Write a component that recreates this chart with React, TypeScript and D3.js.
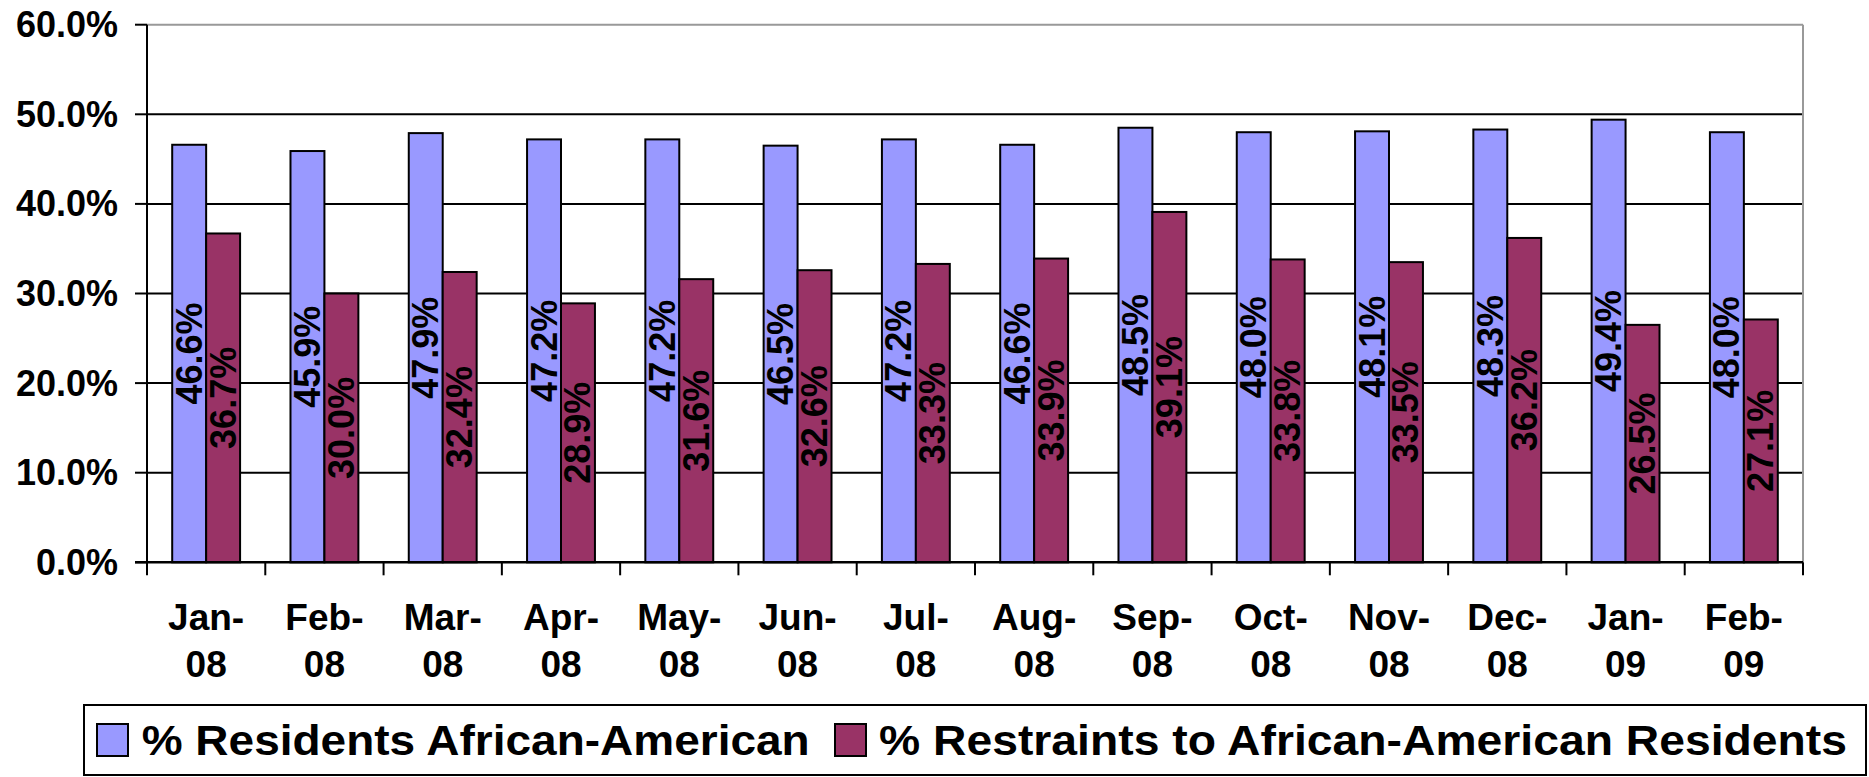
import React from "react";
import * as d3 from "d3";

const monthLabels: string[][] = [
  ["Jan-", "08"], ["Feb-", "08"], ["Mar-", "08"], ["Apr-", "08"], ["May-", "08"], ["Jun-", "08"],
  ["Jul-", "08"], ["Aug-", "08"], ["Sep-", "08"], ["Oct-", "08"], ["Nov-", "08"], ["Dec-", "08"],
  ["Jan-", "09"], ["Feb-", "09"],
];
const residentsAA: number[] = [46.6, 45.9, 47.9, 47.2, 47.2, 46.5, 47.2, 46.6, 48.5, 48.0, 48.1, 48.3, 49.4, 48.0];
const restraintsAA: number[] = [36.7, 30.0, 32.4, 28.9, 31.6, 32.6, 33.3, 33.9, 39.1, 33.8, 33.5, 36.2, 26.5, 27.1];
const yTicks: number[] = [0, 10, 20, 30, 40, 50, 60];
const seriesNames: string[] = ["% Residents African-American", "% Restraints to African-American Residents"];
const seriesColors: string[] = ["#9999FF", "#993366"];

const W = 1869;
const H = 777;
const left = 147;
const right = 1803;
const top = 24.7;
const bottom = 562.3;
const FONT = "'Liberation Sans', Arial, sans-serif";

export default function App() {
  const keys = monthLabels.map((m, i) => String(i));
  const x = d3.scaleBand<string>().domain(keys).range([left, right]).padding(0);
  const bw = x.bandwidth();
  const inner = d3.scaleBand<number>().domain([0, 1]).range([25.2, bw - 25.2]).padding(0);
  const y = d3.scaleLinear().domain([0, 60]).range([bottom, top]);
  const series = [residentsAA, restraintsAA];

  return (
    <svg width={W} height={H} style={{ position: "absolute", left: 0, top: 0, background: "#fff" }} fontFamily={FONT}>
      {yTicks.filter((t) => t > 0 && t < 60).map((t) => (
        <line key={"g" + t} x1={left} x2={right} y1={y(t)} y2={y(t)} stroke="#000" strokeWidth={2} />
      ))}
      <line x1={left} x2={right} y1={y(60)} y2={y(60)} stroke="#999" strokeWidth={2} />
      <line x1={right} x2={right} y1={y(60)} y2={bottom} stroke="#999" strokeWidth={2} />
      {series.map((vals, si) =>
        vals.map((v, i) => (
          <rect
            key={"b" + si + "-" + i}
            x={(x(keys[i]) as number) + (inner(si) as number)}
            y={y(v)}
            width={inner.bandwidth()}
            height={bottom - y(v)}
            fill={seriesColors[si]}
            stroke="#000"
            strokeWidth={2}
          />
        ))
      )}
      {series.map((vals, si) =>
        vals.map((v, i) => {
          const cx = (x(keys[i]) as number) + (inner(si) as number) + inner.bandwidth() / 2;
          const cy = (y(v) + bottom) / 2;
          return (
            <text
              key={"l" + si + "-" + i}
              transform={`translate(${cx},${cy}) rotate(-90)`}
              textAnchor="middle"
              dominantBaseline="central"
              fontSize={36}
              fontWeight="bold"
              fill="#000"
            >
              {v.toFixed(1) + "%"}
            </text>
          );
        })
      )}
      <line x1={left} x2={left} y1={top} y2={bottom} stroke="#000" strokeWidth={2} />
      <line x1={left - 12} x2={right} y1={bottom} y2={bottom} stroke="#000" strokeWidth={2.5} />
      {yTicks.map((t) => (
        <g key={"yt" + t}>
          <line x1={left - 12} x2={left} y1={y(t)} y2={y(t)} stroke="#000" strokeWidth={2} />
          <text x={118} y={y(t)} textAnchor="end" dominantBaseline="central" fontSize={36} fontWeight="bold">
            {t.toFixed(1) + "%"}
          </text>
        </g>
      ))}
      {keys.map((k) => (
        <line key={"xt" + k} x1={x(k) as number} x2={x(k) as number} y1={bottom} y2={bottom + 13} stroke="#000" strokeWidth={2} />
      ))}
      <line x1={right} x2={right} y1={bottom} y2={bottom + 13} stroke="#000" strokeWidth={2} />
      {monthLabels.map((m, i) => (
        <text key={"xl" + i} x={(x(keys[i]) as number) + bw / 2} textAnchor="middle" fontSize={37} fontWeight="bold">
          <tspan x={(x(keys[i]) as number) + bw / 2} y={630}>{m[0]}</tspan>
          <tspan x={(x(keys[i]) as number) + bw / 2} y={677}>{m[1]}</tspan>
        </text>
      ))}
      <rect x={84} y={705} width={1782} height={70} fill="#fff" stroke="#000" strokeWidth={2} />
      <rect x={97} y={724} width={31} height={32} fill={seriesColors[0]} stroke="#000" strokeWidth={2} />
      <text x={141.7} y={755} fontSize={43} fontWeight="bold" textLength={668} lengthAdjust="spacingAndGlyphs">
        {seriesNames[0]}
      </text>
      <rect x={835} y={724} width={31} height={32} fill={seriesColors[1]} stroke="#000" strokeWidth={2} />
      <text x={879} y={755} fontSize={43} fontWeight="bold" textLength={968} lengthAdjust="spacingAndGlyphs">
        {seriesNames[1]}
      </text>
    </svg>
  );
}
